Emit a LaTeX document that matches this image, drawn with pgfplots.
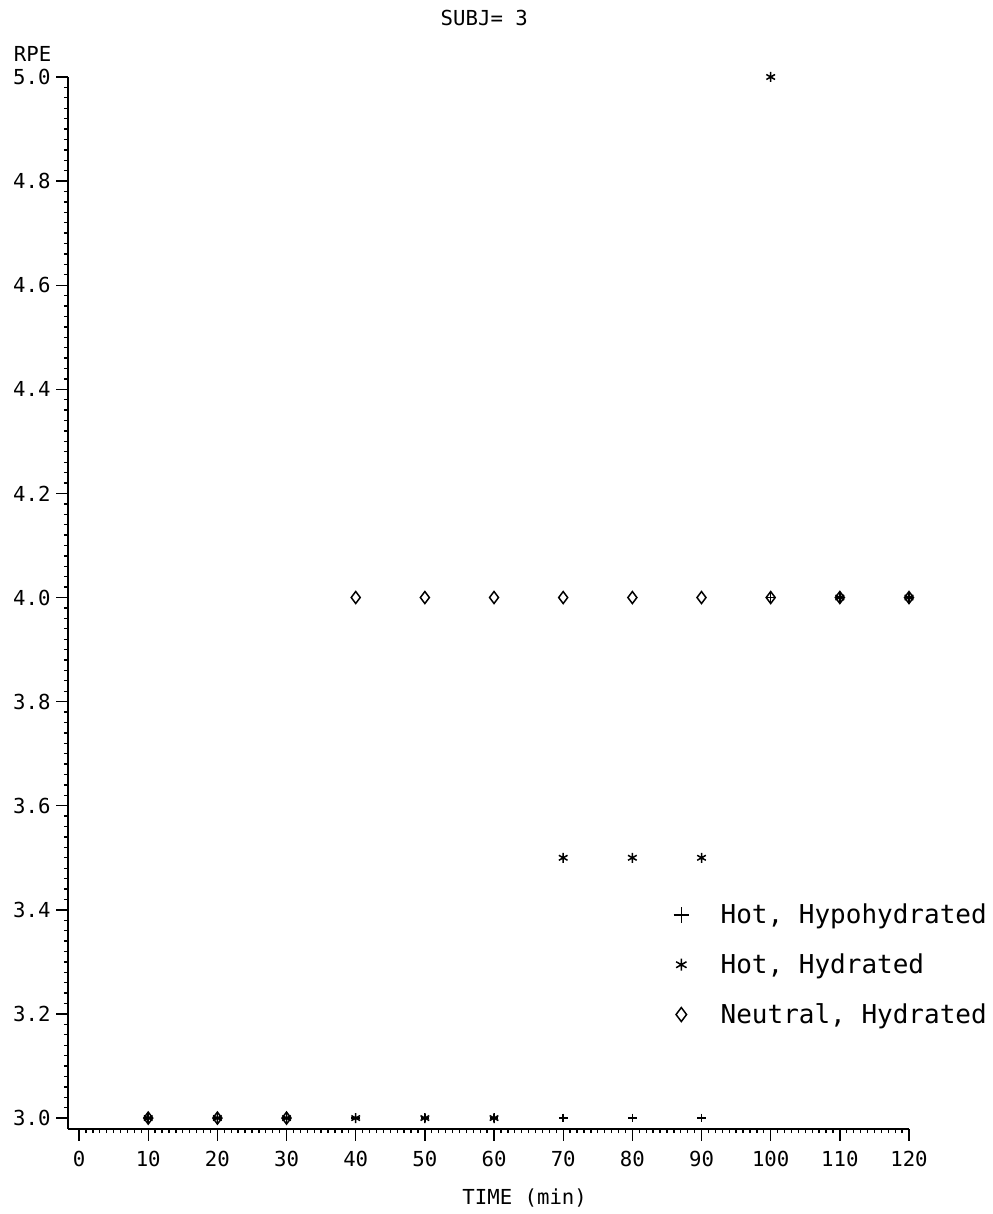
\documentclass[border=0pt]{standalone}
\usepackage{pgfplots}
\pgfplotsset{compat=1.18}
\usepackage{fontspec}
\setmainfont{DejaVu Sans Mono}

% RPE per subject over time, three conditions
\pgfplotstableread{
t   y
10  3.0
20  3.0
30  3.0
40  3.0
50  3.0
60  3.0
70  3.0
80  3.0
90  3.0
100 4.0
110 4.0
120 4.0
}\hothypo
\pgfplotstableread{
t   y
10  3.0
20  3.0
30  3.0
40  3.0
50  3.0
60  3.0
70  3.5
80  3.5
90  3.5
100 5.0
110 4.0
120 4.0
}\hothyd
\pgfplotstableread{
t   y
10  3.0
20  3.0
30  3.0
40  4.0
50  4.0
60  4.0
70  4.0
80  4.0
90  4.0
100 4.0
110 4.0
120 4.0
}\neuthyd

\begin{document}
\begin{tikzpicture}
\useasboundingbox (0,0) rectangle (595.8pt,728.4pt);
\begin{axis}[
  at={(40.8pt,51pt)}, anchor=south west,
  width=504.6pt, height=631.2pt, scale only axis,
  xmin=-1.6, xmax=120, ymin=2.979, ymax=5.0,
  axis lines*=left,
  axis line style={-, line width=0.9pt},
  xtick={0,10,...,120},
  ytick={3.0,3.2,...,5.01},
  minor x tick num=9,
  minor y tick num=9,
  tick align=outside,
  major tick length=7pt,
  minor tick length=2.5pt,
  every tick/.style={black, line width=0.8pt},
  /pgf/number format/assume math mode=true,
  tick label style={font=\fontsize{12.4}{14}\selectfont},
  yticklabel style={/pgf/number format/.cd, fixed, fixed zerofill, precision=1},
  xticklabel style={yshift=-3pt},
  title={SUBJ= 3},
  title style={at={(axis description cs:0.495,1.0465)}, anchor=center, font=\fontsize{12.4}{14}\selectfont},
  xlabel={TIME (min)},
  xlabel style={at={(axis description cs:0.543,-0.0656)}, anchor=center, font=\fontsize{12.4}{14}\selectfont},
  ylabel={RPE},
  ylabel style={rotate=-90, at={(axis description cs:-0.0713,1.0219)}, anchor=west, font=\fontsize{12.4}{14}\selectfont},
  clip=false,
  legend style={draw=none, fill=none, font=\fontsize{15.6}{18}\selectfont,
    at={(axis cs:85.2,3.425)}, anchor=north west, row sep=12.5pt, column sep=17pt,
    cells={anchor=west}},
  legend cell align=left,
]
\addplot[only marks, mark=+, mark size=2.6pt, line width=0.9pt, forget plot] table[x=t,y=y] {\hothypo};
\addplot[only marks, mark=asterisk, mark size=3pt, line width=0.9pt, forget plot] table[x=t,y=y] {\hothyd};
\addplot[only marks, mark=diamond, mark size=3.6pt, line width=0.9pt, forget plot] table[x=t,y=y] {\neuthyd};
\addlegendimage{only marks, mark=+, mark size=4.6pt, line width=0.9pt}
\addlegendentry{Hot, Hypohydrated}
\addlegendimage{only marks, mark=asterisk, mark size=3.6pt, line width=0.9pt}
\addlegendentry{Hot, Hydrated}
\addlegendimage{only marks, mark=diamond, mark size=4.2pt, line width=0.9pt}
\addlegendentry{Neutral, Hydrated}
\end{axis}
\end{tikzpicture}
\end{document}
